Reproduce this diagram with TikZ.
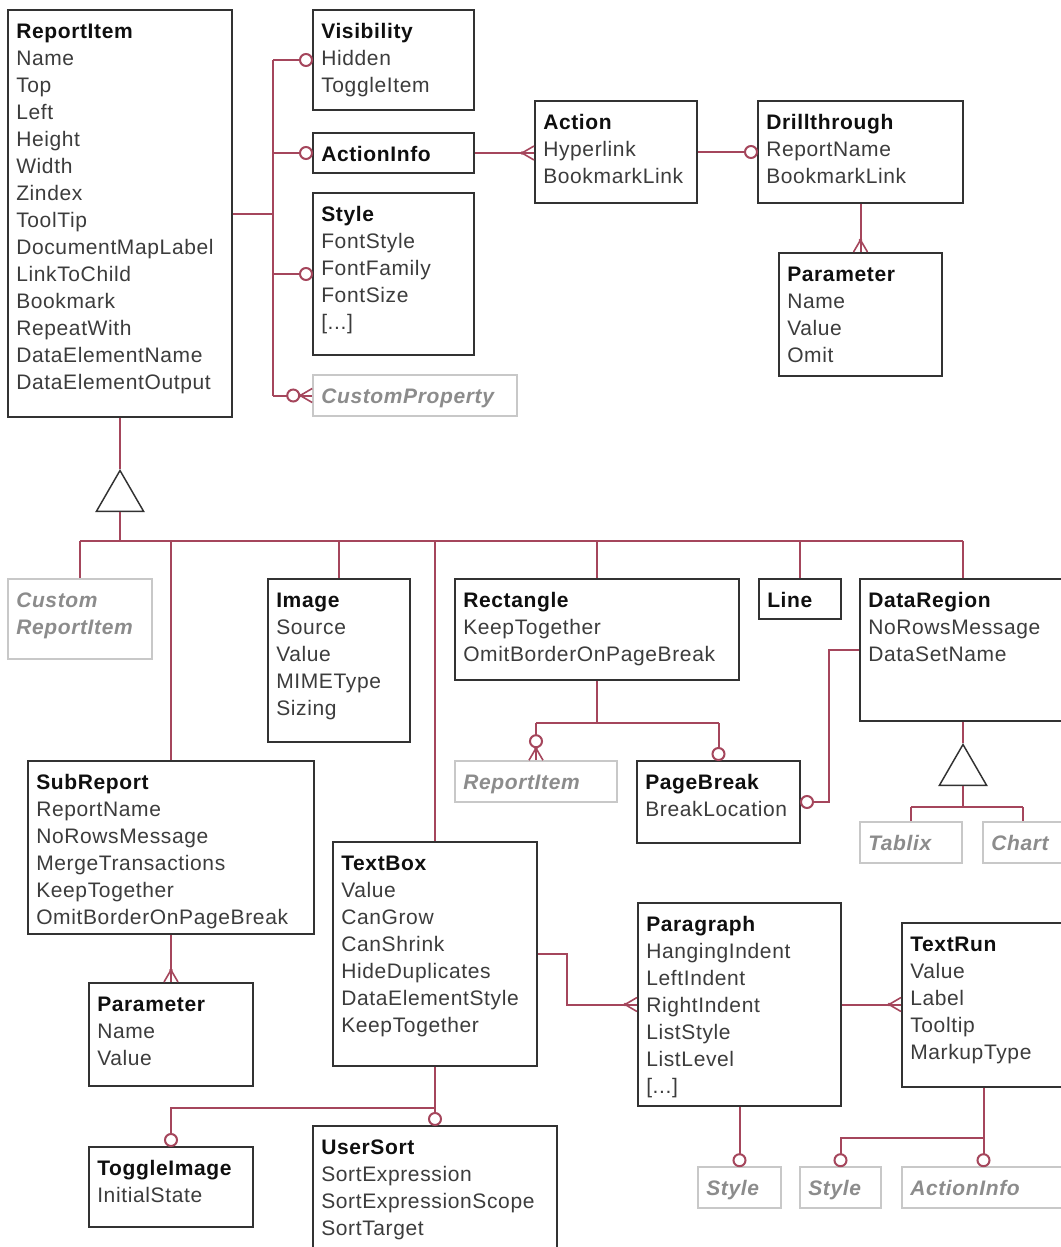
\documentclass[tikz,border=0pt]{standalone}
\usepackage{fontspec}
\setmainfont[LetterSpace=3]{Liberation Sans}
\usetikzlibrary{fit,calc,shapes.geometric}
\definecolor{linkc}{RGB}{165,70,92}
\definecolor{boxc}{RGB}{50,50,50}
\definecolor{gboxc}{RGB}{200,200,200}
\definecolor{gtextc}{RGB}{140,140,140}
\definecolor{bodyc}{RGB}{60,60,60}
\definecolor{titlec}{RGB}{15,15,15}
\tikzset{
  box/.style={draw=boxc, line width=1.5pt, inner sep=0pt},
  gbox/.style={draw=gboxc, line width=1.2pt, inner sep=0pt},
  link/.style={draw=linkc, line width=1.5pt},
  foot/.style={draw=linkc, line width=1.2pt},
  txt/.style={anchor=north west, inner sep=0pt, align=left, text=bodyc,
    font=\fontsize{15.75}{20.25}\selectfont},
  gtxt/.style={txt, text=gtextc, font=\fontsize{15.75}{20.25}\selectfont\bfseries\itshape},
  tri/.style={regular polygon, regular polygon sides=3, draw=boxc, fill=white,
    line width=1.1pt, minimum size=41pt, inner sep=0pt}
}
\newcommand\ttl[1]{\textcolor{titlec}{\textbf{#1}}}
\newcommand\cls[6]{%
  \node[box, fit={(#2,#3) (#4,#5)}] (#1) {};
  \node[txt] at ({#2+8},{#3+12.5}) {\rule{0pt}{12pt}#6};}
\newcommand\gcls[6]{%
  \node[gbox, fit={(#2,#3) (#4,#5)}] (#1) {};
  \node[gtxt] at ({#2+8},{#3+12.5}) {\rule{0pt}{12pt}#6};}
\newcommand\mkZW[1]{\draw[link,fill=white] ($(#1)+(-6,0)$) circle (6);}
\newcommand\mkZE[1]{\draw[link,fill=white] ($(#1)+(6,0)$) circle (6);}
\newcommand\mkZN[1]{\draw[link,fill=white] ($(#1)+(0,-6)$) circle (6);}
\newcommand\mkCW[1]{\draw[foot] ($(#1)+(-12,0)$) -- ($(#1)+(0,-7)$) ($(#1)+(-12,0)$) -- ($(#1)+(0,7)$);
  \fill[linkc] ($(#1)+(-12,0)$) circle (1.8);}
\newcommand\mkCN[1]{\draw[foot] ($(#1)+(0,-12)$) -- ($(#1)+(-7,0)$) ($(#1)+(0,-12)$) -- ($(#1)+(7,0)$);
  \fill[linkc] ($(#1)+(0,-12)$) circle (1.8);}
\newcommand\mkZMW[1]{\mkCW{#1}\draw[link,fill=white] ($(#1)+(-19,0)$) circle (6);}
\newcommand\mkZMN[1]{\mkCN{#1}\draw[link,fill=white] ($(#1)+(0,-19)$) circle (6);}
\begin{document}
\begin{tikzpicture}[x=0.75pt,y=-0.75pt]
\useasboundingbox (0,0) rectangle (1061,1247);
\clip (0,0) rectangle (1061,1247);
\fill[white] (0,0) rectangle (1061,1247);
% classes
\cls{RI}{8}{10}{232}{417}{\ttl{ReportItem}\\Name\\Top\\Left\\Height\\Width\\Zindex\\ToolTip\\DocumentMapLabel\\LinkToChild\\Bookmark\\RepeatWith\\DataElementName\\DataElementOutput}
\cls{Vis}{313}{10}{474}{110}{\ttl{Visibility}\\Hidden\\ToggleItem}
\cls{AI}{313}{133}{474}{173}{\ttl{ActionInfo}}
\cls{Sty}{313}{193}{474}{355}{\ttl{Style}\\FontStyle\\FontFamily\\FontSize\\{[...]}}
\gcls{CP}{313}{375}{517}{416}{CustomProperty}
\cls{Act}{535}{101}{697}{203}{\ttl{Action}\\Hyperlink\\BookmarkLink}
\cls{Dr}{758}{101}{963}{203}{\ttl{Drillthrough}\\ReportName\\BookmarkLink}
\cls{P1}{779}{253}{942}{376}{\ttl{Parameter}\\Name\\Value\\Omit}
\gcls{CRI}{8}{579}{152}{659}{Custom\\ReportItem}
\cls{Img}{268}{579}{410}{742}{\ttl{Image}\\Source\\Value\\MIMEType\\Sizing}
\cls{Rect}{455}{579}{739}{680}{\ttl{Rectangle}\\KeepTogether\\OmitBorderOnPageBreak}
\cls{Ln}{759}{579}{841}{619}{\ttl{Line}}
\cls{DR}{860}{579}{1066}{721}{\ttl{DataRegion}\\NoRowsMessage\\DataSetName}
\cls{SR}{28}{761}{314}{934}{\ttl{SubReport}\\ReportName\\NoRowsMessage\\MergeTransactions\\KeepTogether\\OmitBorderOnPageBreak}
\gcls{RI2}{455}{761}{617}{802}{ReportItem}
\cls{PB}{637}{761}{800}{843}{\ttl{PageBreak}\\BreakLocation}
\gcls{Tab}{860}{822}{962}{863}{Tablix}
\gcls{Ch}{983}{822}{1063}{863}{Chart}
\cls{TB}{333}{842}{537}{1066}{\ttl{TextBox}\\Value\\CanGrow\\CanShrink\\HideDuplicates\\DataElementStyle\\KeepTogether}
\cls{Par}{638}{903}{841}{1106}{\ttl{Paragraph}\\HangingIndent\\LeftIndent\\RightIndent\\ListStyle\\ListLevel\\{[...]}}
\cls{TR}{902}{923}{1065}{1087}{\ttl{TextRun}\\Value\\Label\\Tooltip\\MarkupType}
\cls{P2}{89}{983}{253}{1086}{\ttl{Parameter}\\Name\\Value}
\cls{TI}{89}{1147}{253}{1227}{\ttl{ToggleImage}\\InitialState}
\cls{US}{313}{1126}{557}{1270}{\ttl{UserSort}\\SortExpression\\SortExpressionScope\\SortTarget}
\gcls{S1}{698}{1167}{781}{1208}{Style}
\gcls{S2}{800}{1167}{881}{1208}{Style}
\gcls{AI2}{902}{1167}{1065}{1208}{ActionInfo}
% ReportItem associations
\coordinate (rb) at ($(RI.east)+(40,0)$);
\draw[link] (RI.east) -- (rb);
\draw[link] (rb |- Vis.west) -- (rb |- CP.west);
\draw[link] (rb |- Vis.west) -- (Vis.west);
\draw[link] (rb |- AI.west) -- (AI.west);
\draw[link] (rb |- Sty.west) -- (Sty.west);
\draw[link] (rb |- CP.west) -- (CP.west);
\mkZW{Vis.west}\mkZW{AI.west}\mkZW{Sty.west}\mkZMW{CP.west}
\draw[link] (AI.east) -- (Act.west |- AI.east);
\mkCW{Act.west |- AI.east}
\draw[link] (Act.east) -- (Dr.west);
\mkZW{Dr.west}
\draw[link] (Dr.south) -- (P1.north);
\mkCN{P1.north}
% inheritance from ReportItem
\node[tri, anchor=corner 1] (T1) at ($(RI.south)+(0,51)$) {};
\draw[link] (RI.south) -- (T1.corner 1);
\coordinate (bus) at ($(T1.side 2)+(0,29)$);
\draw[link] (T1.side 2) -- (bus);
\draw[link] (CRI.north |- bus) -- (DR.north |- bus);
\foreach \n in {CRI,SR,Img,TB,Rect,Ln,DR} {\draw[link] (\n.north |- bus) -- (\n.north);}
% Rectangle children
\coordinate (rj) at ($(Rect.south)+(0,42)$);
\draw[link] (Rect.south) -- (rj);
\draw[link] (RI2.north |- rj) -- (PB.north |- rj);
\draw[link] (RI2.north |- rj) -- (RI2.north);
\draw[link] (PB.north |- rj) -- (PB.north);
\mkZMN{RI2.north}\mkZN{PB.north}
% DataRegion to PageBreak
\draw[link] (DR.west) -- ++(-30,0) |- (PB.east);
\mkZE{PB.east}
% DataRegion inheritance
\node[tri, anchor=corner 1] (T2) at ($(DR.south)+(0,21)$) {};
\draw[link] (DR.south) -- (T2.corner 1);
\coordinate (bus2) at ($(T2.side 2)+(0,21)$);
\draw[link] (T2.side 2) -- (bus2);
\draw[link] (Tab.north |- bus2) -- (Ch.north |- bus2);
\draw[link] (Tab.north |- bus2) -- (Tab.north);
\draw[link] (Ch.north |- bus2) -- (Ch.north);
% SubReport parameter
\draw[link] (SR.south) -- (P2.north);
\mkCN{P2.north}
% TextBox
\draw[link] (TB.south) -- (US.north);
\coordinate (tj) at ($(TB.south)+(0,41)$);
\draw[link] (tj) -| (TI.north);
\mkZN{US.north}\mkZN{TI.north}
\draw[link] (TB.east) -- ++(29,0) |- (Par.west);
\mkCW{Par.west}
\draw[link] (Par.east) -- (TR.west |- Par.east);
\mkCW{TR.west |- Par.east}
\draw[link] (Par.south) -- (S1.north);
\mkZN{S1.north}
\draw[link] (TR.south) -- (AI2.north);
\coordinate (rj2) at ($(TR.south)+(0,50)$);
\draw[link] (rj2) -| (S2.north);
\mkZN{AI2.north}\mkZN{S2.north}
\end{tikzpicture}
\end{document}
